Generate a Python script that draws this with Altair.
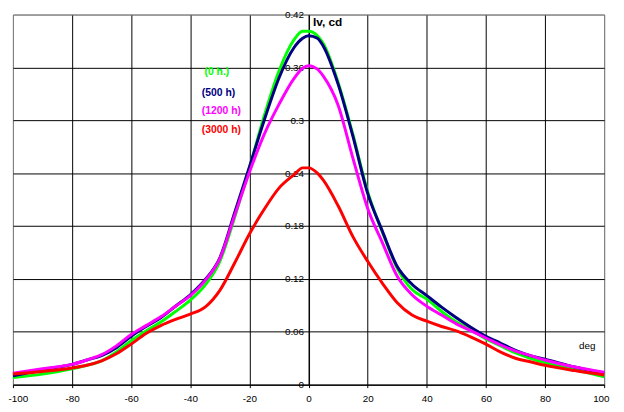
import altair as alt
import pandas as pd

deg = [-100, -90, -80, -75, -70, -65, -60, -55, -50, -45, -40, -35, -30, -25, -20, -15, -10, -5, -2, 0,
       3, 5, 10, 15, 20, 25, 30, 35, 40, 45, 50, 55, 60, 65, 70, 75, 80, 90, 100]

iv_0h = [0.008, 0.012, 0.018, 0.022, 0.027, 0.037, 0.050, 0.061, 0.071, 0.083, 0.096, 0.113, 0.140, 0.190,
         0.246, 0.305, 0.356, 0.391, 0.401, 0.401, 0.396, 0.387, 0.343, 0.284, 0.219, 0.173, 0.132, 0.108,
         0.097, 0.083, 0.071, 0.062, 0.052, 0.044, 0.036, 0.030, 0.025, 0.017, 0.009]
iv_500h = [0.010, 0.017, 0.023, 0.028, 0.033, 0.042, 0.055, 0.066, 0.076, 0.089, 0.102, 0.119, 0.144, 0.195,
           0.247, 0.300, 0.348, 0.382, 0.393, 0.396, 0.393, 0.384, 0.341, 0.282, 0.217, 0.174, 0.134, 0.114,
           0.101, 0.088, 0.076, 0.065, 0.055, 0.047, 0.039, 0.033, 0.029, 0.020, 0.013]
iv_1200h = [0.013, 0.018, 0.023, 0.028, 0.034, 0.044, 0.057, 0.067, 0.077, 0.089, 0.101, 0.118, 0.143, 0.192,
            0.241, 0.284, 0.318, 0.347, 0.359, 0.362, 0.358, 0.350, 0.317, 0.257, 0.200, 0.161, 0.123, 0.102,
            0.089, 0.079, 0.069, 0.061, 0.053, 0.045, 0.038, 0.033, 0.028, 0.020, 0.014]
iv_3000h = [0.012, 0.015, 0.019, 0.022, 0.027, 0.035, 0.046, 0.058, 0.067, 0.074, 0.080, 0.088, 0.107, 0.138,
            0.171, 0.199, 0.223, 0.238, 0.246, 0.246, 0.240, 0.232, 0.203, 0.168, 0.140, 0.115, 0.093, 0.079,
            0.072, 0.066, 0.061, 0.054, 0.046, 0.037, 0.030, 0.026, 0.022, 0.016, 0.011]

series_names = ["(0 h.)", "(500 h)", "(1200 h)", "(3000 h)"]
series_colors = ["#00ff00", "#000080", "#ff00ff", "#ff0000"]
series_values = [iv_0h, iv_500h, iv_1200h, iv_3000h]

label_x = [-35.2, -36.1, -36.1, -36.1]
label_y = [0.355, 0.331, 0.311, 0.289]

x_ticks = [-100, -80, -60, -40, -20, 0, 20, 40, 60, 80, 100]
y_ticks = [0, 0.06, 0.12, 0.18, 0.24, 0.3, 0.36, 0.42]

W, H = 599, 375
FONT = "Liberation Sans"

xs = alt.Scale(domain=[-100, 100], nice=False, zero=False)
ys = alt.Scale(domain=[0, 0.42], nice=False)

x_axis = alt.Axis(values=x_ticks, title=None, grid=True,
                  gridColor={"condition": {"test": "abs(datum.value) == 100", "value": "#808080"},
                             "value": "#000000"},
                  gridOpacity=1, gridWidth=1, domainColor="#000000", tickColor="#000000",
                  tickSize=3, labelFont=FONT, labelFontSize=10, labelColor="#000000",
                  labelPadding=6, labelFlush=True, labelFlushOffset=5,
                  labelExpr="datum.value < 0 ? '-' + abs(datum.value) : '' + datum.value")
y_axis = alt.Axis(values=y_ticks, title=None, grid=True,
                  gridColor={"condition": {"test": "datum.value > 0.41", "value": "#808080"},
                             "value": "#000000"},
                  gridOpacity=1, gridWidth=1, domainColor="#000000", ticks=False,
                  labelPadding=5, offset=-W / 2, format=".2~f", labelFont=FONT,
                  labelFontSize=10, labelColor="#000000", labelFlush=False)


def X(field):
    return alt.X(field, scale=xs, axis=x_axis)


def Y(field):
    return alt.Y(field, scale=ys, axis=y_axis)


layers = []
for name, color, vals in zip(series_names, series_colors, series_values):
    df = pd.DataFrame({"deg": deg, "iv": vals})
    layers.append(
        alt.Chart(df).mark_line(color=color, strokeWidth=3, interpolate="monotone").encode(
            x=X("deg:Q"), y=Y("iv:Q"))
    )

leg_df = pd.DataFrame({"deg": label_x, "iv": label_y, "name": series_names, "c": series_colors})
legend = alt.Chart(leg_df).mark_text(align="left", baseline="middle", font=FONT, fontSize=10.5,
                                     fontWeight="bold").encode(
    x=X("deg:Q"), y=Y("iv:Q"), text="name:N", color=alt.Color("c:N", scale=None))

ann_text = ["Iv, cd", "deg"]
ann_x = [1.5, 91.5]
ann_y = [0.411, 0.0438]
ann_df = pd.DataFrame({"t": ann_text, "deg": ann_x, "iv": ann_y})
title_y = alt.Chart(ann_df.iloc[[0]]).mark_text(align="left", baseline="middle", font=FONT, fontSize=12,
                                                fontWeight="bold", color="#000000").encode(
    x=X("deg:Q"), y=Y("iv:Q"), text="t:N")
title_x = alt.Chart(ann_df.iloc[[1]]).mark_text(align="left", baseline="middle", font=FONT, fontSize=10,
                                                color="#000000").encode(
    x=X("deg:Q"), y=Y("iv:Q"), text="t:N")

chart = alt.layer(*layers, legend, title_y, title_x).properties(
    width=W, height=H,
    autosize=alt.AutoSizeParams(type="none"),
    padding={"left": 5, "top": 4, "right": 12, "bottom": 20},
    background="#ffffff",
).configure_view(stroke="#808080", strokeWidth=1)

chart.save("out.html", embed_options={"renderer": "svg", "actions": False})
